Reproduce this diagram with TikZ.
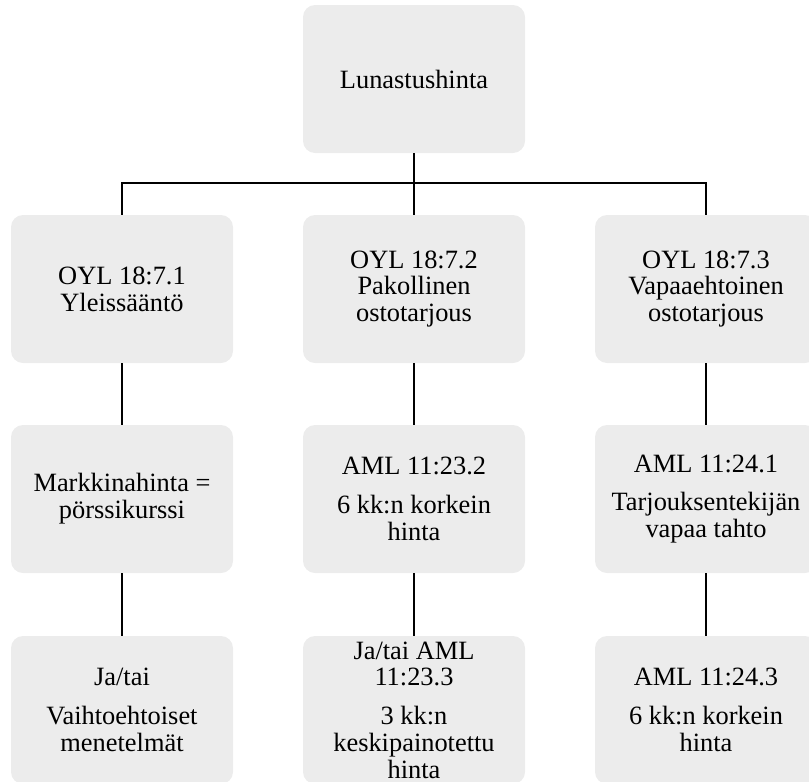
\documentclass[tikz,border=0pt]{standalone}
\usepackage{fontspec}
\setmainfont{Liberation Serif}
\definecolor{boxgray}{RGB}{236,236,236}
\tikzset{
  box/.style={fill=boxgray, rounded corners=12pt, minimum width=222pt, minimum height=148pt,
    inner sep=0pt, align=center, font=\fontsize{26.4}{26.8}\selectfont},
  link/.style={draw=black, line width=1.1pt}
}
\begin{document}
\begin{tikzpicture}[x=1pt,y=-1pt]
\clip (0,0) rectangle (809,782);
\node[box] (top) at (414,79) {Lunastushinta};
\node[box] (l2) at (122,289) {OYL 18:7.1\\Yleissääntö};
\node[box] (m2) at (414,289) {OYL 18:7.2\\Pakollinen\\ostotarjous};
\node[box] (r2) at (706,289) {OYL 18:7.3\\Vapaaehtoinen\\ostotarjous};
\node[box] (l3) at (122,499) {Markkinahinta =\\pörssikurssi};
\node[box] (m3) at (414,499) {AML 11:23.2\\[12pt]6 kk:n korkein\\hinta};
\node[box] (r3) at (706,499) {AML 11:24.1\\[12pt]Tarjouksentekijän\\vapaa tahto};
\node[box] (l4) at (122,710) {Ja/tai\\[12pt]Vaihtoehtoiset\\menetelmät};
\node[box] (m4) at (414,710) {Ja/tai AML\\11:23.3\\[12pt]3 kk:n\\keskipainotettu\\hinta};
\node[box] (r4) at (706,710) {AML 11:24.3\\[12pt]6 kk:n korkein\\hinta};
\coordinate (bus) at (414,183);
\draw[link] (top.south) -- (m2.north);
\draw[link] (l2.north) |- (bus) -| (r2.north);
\draw[link] (l2.south) -- (l3.north);
\draw[link] (m2.south) -- (m3.north);
\draw[link] (r2.south) -- (r3.north);
\draw[link] (l3.south) -- (l4.north);
\draw[link] (m3.south) -- (m4.north);
\draw[link] (r3.south) -- (r4.north);
\end{tikzpicture}
\end{document}
